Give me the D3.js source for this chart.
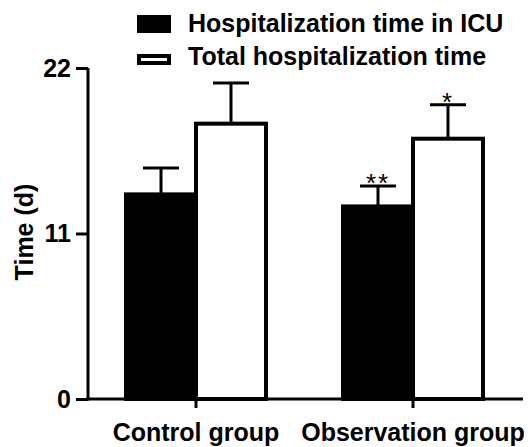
<!DOCTYPE html>
<html>
<head>
<meta charset="utf-8">
<script src="https://cdn.jsdelivr.net/npm/d3@7"></script>
<style>
  html, body { margin: 0; padding: 0; background: #fff; }
  svg text { font-family: "Liberation Sans", Arial, sans-serif; }
</style>
</head>
<body>
<svg id="chart" width="531" height="447"></svg>
<script>
const groups = ["Control group", "Observation group"];
const seriesNames = ["Hospitalization time in ICU", "Total hospitalization time"];
const icuMean = [13.6, 12.8];
const icuErr = [1.75, 1.35];
const totalMean = [18.3, 17.3];
const totalErr = [2.7, 2.25];
const icuSig = ["", "**"];
const totalSig = ["", "*"];
const yTicks = [0, 11, 22];

const svg = d3.select("#chart");
const y = d3.scaleLinear().domain([0, 22]).range([399, 68]);
const x0 = d3.scaleBand().domain(groups).range([87.5, 521.5]).paddingInner(0.355).paddingOuter(0.1775);
const x1 = d3.scaleBand().domain(seriesNames).range([0, x0.bandwidth()]);

const rows = groups.map((g, i) => ({
  g,
  vals: [
    { s: seriesNames[0], v: icuMean[i], e: icuErr[i], sig: icuSig[i], fill: "#000" },
    { s: seriesNames[1], v: totalMean[i], e: totalErr[i], sig: totalSig[i], fill: "#fff" }
  ]
}));

const gGroups = svg.append("g").selectAll("g").data(rows).join("g")
  .attr("transform", d => `translate(${x0(d.g)},0)`);

// error bars (behind bars)
const eb = gGroups.selectAll("g.eb").data(d => d.vals).join("g").attr("class", "eb");
eb.append("line")
  .attr("x1", d => x1(d.s) + x1.bandwidth() / 2).attr("x2", d => x1(d.s) + x1.bandwidth() / 2)
  .attr("y1", d => y(d.v)).attr("y2", d => y(d.v + d.e))
  .attr("stroke", "#000").attr("stroke-width", 3);
eb.append("line")
  .attr("x1", d => x1(d.s) + x1.bandwidth() / 2 - 18).attr("x2", d => x1(d.s) + x1.bandwidth() / 2 + 18)
  .attr("y1", d => y(d.v + d.e)).attr("y2", d => y(d.v + d.e))
  .attr("stroke", "#000").attr("stroke-width", 3);
eb.append("text")
  .attr("x", d => x1(d.s) + x1.bandwidth() / 2)
  .attr("y", d => y(d.v + d.e) + 6)
  .attr("text-anchor", "middle")
  .attr("font-size", 26)
  .attr("letter-spacing", 2)
  .text(d => d.sig);

gGroups.selectAll("rect").data(d => d.vals).join("rect")
  .attr("x", d => x1(d.s))
  .attr("width", x1.bandwidth())
  .attr("y", d => y(d.v))
  .attr("height", d => y(0) - y(d.v))
  .attr("fill", d => d.fill)
  .attr("stroke", "#000")
  .attr("stroke-width", 4);

// axes
const yAxis = svg.append("g").attr("transform", "translate(88,0)")
  .call(d3.axisLeft(y).tickValues(yTicks).tickSize(12).tickSizeOuter(0).tickPadding(5));
const xAxis = svg.append("g").attr("transform", "translate(0,399)")
  .call(d3.axisBottom(x0).tickSize(9).tickSizeOuter(0).tickPadding(15));
xAxis.select(".domain").attr("d", "M86.5,0H523");
[yAxis, xAxis].forEach(a => {
  a.selectAll("path, line").attr("stroke", "#000").attr("stroke-width", 3);
  a.selectAll("text").attr("font-size", 25).attr("font-weight", "bold").attr("fill", "#000")
    .attr("font-family", "'Liberation Sans', Arial, sans-serif");
});
yAxis.select(".domain").attr("d", "M0,68V400.5");

svg.append("text")
  .attr("transform", "translate(33,232) rotate(-90)")
  .attr("text-anchor", "middle")
  .attr("font-size", 25).attr("font-weight", "bold")
  .text("Time (d)");

// legend
const legend = svg.append("g");
const legendY = [15, 54];
legend.append("rect").attr("x", 137).attr("y", legendY[0]).attr("width", 34).attr("height", 18).attr("fill", "#000");
legend.append("rect").attr("x", 139).attr("y", legendY[1] + 2).attr("width", 30).attr("height", 7)
  .attr("fill", "#fff").attr("stroke", "#000").attr("stroke-width", 4);
legend.selectAll("text").data(seriesNames).join("text")
  .attr("x", 188)
  .attr("y", (d, i) => legendY[i] + 17 - i * 7 + (i ? 7 : 0) - (i ? 6 : 0))
  .attr("font-size", 25).attr("font-weight", "bold")
  .text(d => d);
</script>
</body>
</html>
